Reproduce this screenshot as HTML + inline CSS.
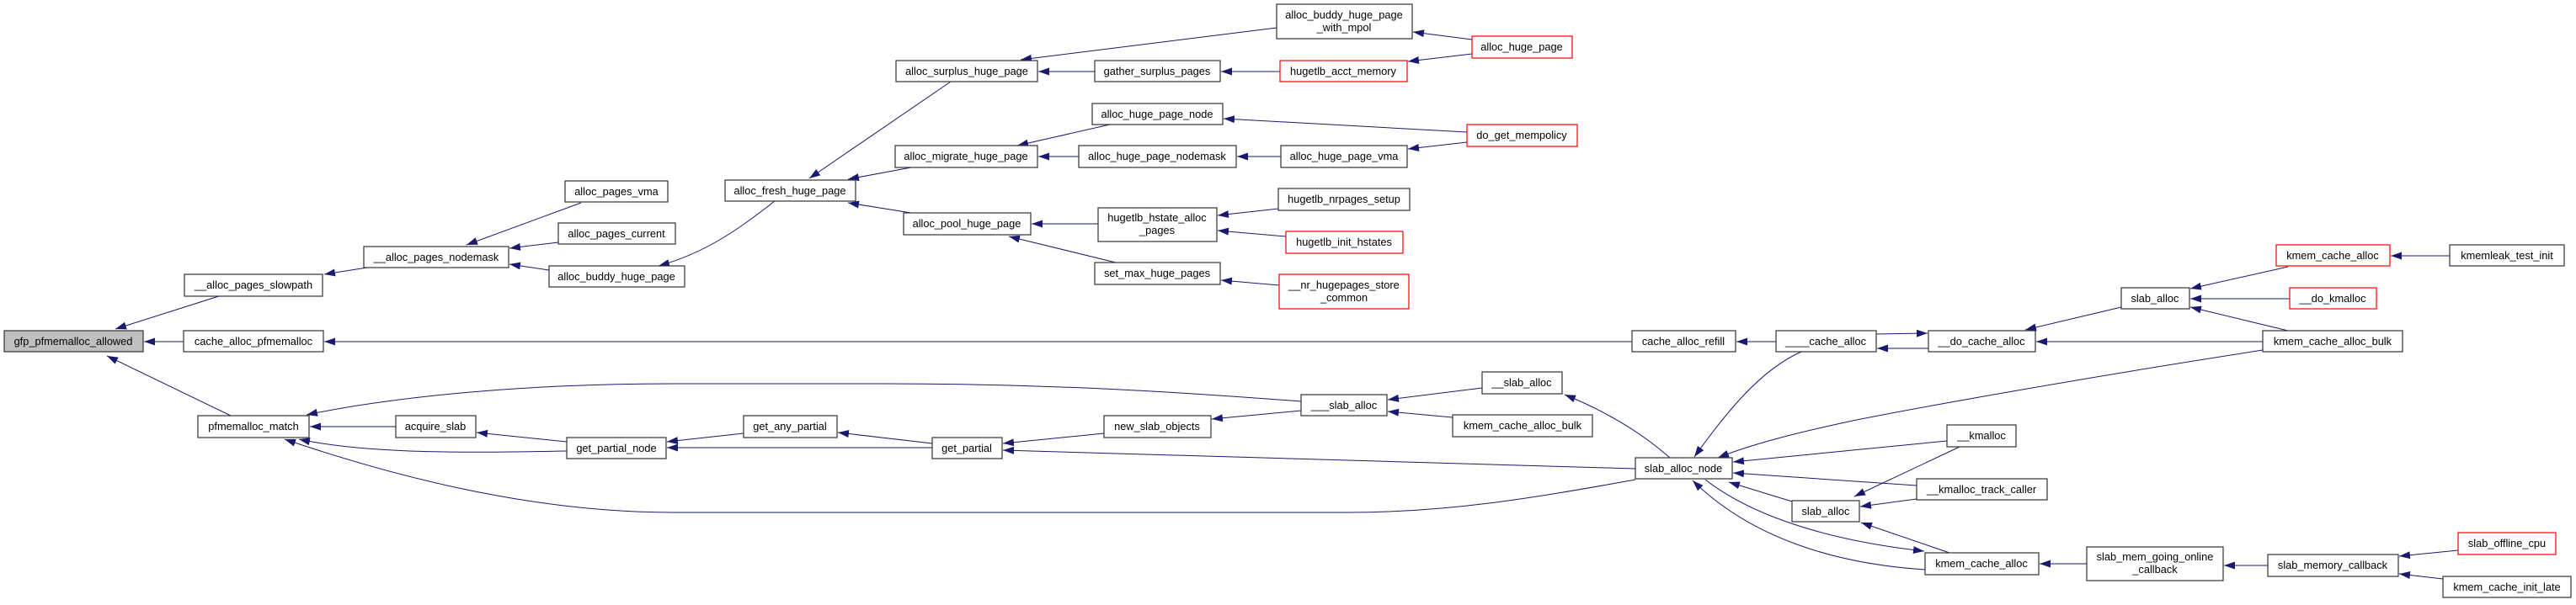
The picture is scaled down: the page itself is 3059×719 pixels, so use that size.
<!DOCTYPE html>
<html><head><meta charset="utf-8"><style>
html,body{margin:0;padding:0;background:#fff;}
svg text{font-family:"Liberation Sans",sans-serif;font-size:12.8px;fill:#000;text-anchor:middle;}
.n{fill:#fff;stroke:#333;stroke-width:1.2;}
.r{fill:#fff;stroke:#f00;stroke-width:1.2;}
.g{fill:#bfbfbf;stroke:#333;stroke-width:1.2;}
.e{fill:none;stroke:#191970;stroke-width:1;marker-end:url(#a);}
</style></head><body>
<svg width="3059" height="714" viewBox="0 0 3059 714" xmlns="http://www.w3.org/2000/svg">
<defs><marker id="a" markerUnits="userSpaceOnUse" markerWidth="14" markerHeight="11" refX="13" refY="4.5" orient="auto"><path d="M0,0 L13,4.5 L0,9 z" fill="#191970"/></marker></defs>
<g>
<path class="e" d="M260,352 L137,391"/>
<path class="e" d="M218,406 L171,406"/>
<path class="e" d="M274,494 L127,423"/>
<path class="e" d="M436,318 L385,326"/>
<path class="e" d="M690,241 L554,291"/>
<path class="e" d="M663,288 L605,295"/>
<path class="e" d="M652,321 L605,314"/>
<path class="e" d="M920,239 C880,270 840,300 782,316"/>
<path class="e" d="M1129,97 L961,212"/>
<path class="e" d="M1082,199 L1007,213"/>
<path class="e" d="M1082,253 L1007,241"/>
<path class="e" d="M1516,33 L1212,71"/>
<path class="e" d="M1300,85 L1233,85"/>
<path class="e" d="M1520,85 L1450,85"/>
<path class="e" d="M1748,47 L1678,38"/>
<path class="e" d="M1748,64 L1672,73"/>
<path class="e" d="M1318,148 L1208,173"/>
<path class="e" d="M1281,186 L1233,186"/>
<path class="e" d="M1521,186 L1469,186"/>
<path class="e" d="M1742,157 L1453,141"/>
<path class="e" d="M1742,169 L1672,177"/>
<path class="e" d="M1304,266 L1225,266"/>
<path class="e" d="M1325,312 L1198,281"/>
<path class="e" d="M1518,248 L1446,256"/>
<path class="e" d="M1527,281 L1446,274"/>
<path class="e" d="M1519,339 L1450,333"/>
<path class="e" d="M1938,406 L385,406"/>
<path class="e" d="M2109,406 L2062,406"/>
<path class="e" d="M2290,414 L2229,414"/>
<path class="e" d="M2228,397 L2289,396"/>
<path class="e" d="M2519,365 L2405,392"/>
<path class="e" d="M2687,406 L2418,406"/>
<path class="e" d="M2717,317 L2601,343"/>
<path class="e" d="M2719,355 L2601,355"/>
<path class="e" d="M2717,393 L2601,365"/>
<path class="e" d="M2909,304 L2839,304"/>
<path class="e" d="M2139,418 C2090,440 2050,490 2012,543"/>
<path class="e" d="M2687,416 C2500,445 2300,480 2200,500 C2130,515 2080,528 2040,544"/>
<path class="e" d="M2312,524 L2058,549"/>
<path class="e" d="M2276,577 L2058,562"/>
<path class="e" d="M2128,596 L2053,573"/>
<path class="e" d="M2327,531 L2202,590"/>
<path class="e" d="M2276,593 L2209,602"/>
<path class="e" d="M2315,657 L2210,621"/>
<path class="e" d="M2286,677 C2180,670 2080,640 2010,571"/>
<path class="e" d="M2025,570 C2070,605 2150,640 2285,655"/>
<path class="e" d="M2478,670 L2422,670"/>
<path class="e" d="M2693,672 L2641,672"/>
<path class="e" d="M2919,654 L2849,661"/>
<path class="e" d="M2901,688 L2849,682"/>
<path class="e" d="M1760,461 L1648,475"/>
<path class="e" d="M1725,496 L1648,489"/>
<path class="e" d="M1983,544 C1950,515 1910,490 1858,469"/>
<path class="e" d="M1545,477 C1400,466 1250,456 1050,456 L800,456 C600,456 450,475 364,493"/>
<path class="e" d="M1545,488 L1439,498"/>
<path class="e" d="M1311,515 L1191,527"/>
<path class="e" d="M1942,557 L1191,535"/>
<path class="e" d="M1107,527 L995,514"/>
<path class="e" d="M1107,532 L792,532"/>
<path class="e" d="M883,515 L792,525"/>
<path class="e" d="M673,525 L566,514"/>
<path class="e" d="M470,507 L368,507"/>
<path class="e" d="M673,536 C560,538 440,540 355,522"/>
<path class="e" d="M1942,570 C1820,592 1720,609 1600,609 L800,609 C620,609 450,560 338,522"/>
</g>
<g>
<rect class="g" x="5" y="393" width="165" height="25"/><text x="87" y="410">gfp_pfmemalloc_allowed</text>
<rect class="n" x="219" y="326" width="164" height="26"/><text x="301" y="343">__alloc_pages_slowpath</text>
<rect class="n" x="218" y="393" width="166" height="25"/><text x="301" y="410">cache_alloc_pfmemalloc</text>
<rect class="n" x="235" y="494" width="132" height="26"/><text x="301" y="511">pfmemalloc_match</text>
<rect class="n" x="432" y="293" width="172" height="25"/><text x="518" y="310">__alloc_pages_nodemask</text>
<rect class="n" x="671" y="215" width="122" height="25"/><text x="732" y="232">alloc_pages_vma</text>
<rect class="n" x="663" y="265" width="139" height="25"/><text x="732" y="282">alloc_pages_current</text>
<rect class="n" x="652" y="316" width="161" height="25"/><text x="732" y="333">alloc_buddy_huge_page</text>
<rect class="n" x="470" y="494" width="95" height="26"/><text x="517" y="511">acquire_slab</text>
<rect class="n" x="673" y="520" width="118" height="25"/><text x="732" y="537">get_partial_node</text>
<rect class="n" x="1516" y="5" width="161" height="41"/><text x="1596" y="22">alloc_buddy_huge_page</text><text x="1596" y="37">_with_mpol</text>
<rect class="n" x="1064" y="72" width="168" height="25"/><text x="1148" y="89">alloc_surplus_huge_page</text>
<rect class="n" x="1300" y="72" width="149" height="25"/><text x="1374" y="89">gather_surplus_pages</text>
<rect class="r" x="1520" y="72" width="151" height="25"/><text x="1595" y="89">hugetlb_acct_memory</text>
<rect class="n" x="1297" y="123" width="155" height="25"/><text x="1374" y="140">alloc_huge_page_node</text>
<rect class="n" x="1063" y="173" width="169" height="26"/><text x="1147" y="190">alloc_migrate_huge_page</text>
<rect class="n" x="1281" y="173" width="187" height="26"/><text x="1374" y="190">alloc_huge_page_nodemask</text>
<rect class="n" x="1521" y="173" width="150" height="26"/><text x="1596" y="190">alloc_huge_page_vma</text>
<rect class="n" x="861" y="214" width="155" height="25"/><text x="938" y="231">alloc_fresh_huge_page</text>
<rect class="n" x="1073" y="253" width="151" height="26"/><text x="1148" y="270">alloc_pool_huge_page</text>
<rect class="n" x="1304" y="247" width="141" height="40"/><text x="1374" y="263">hugetlb_hstate_alloc</text><text x="1374" y="278">_pages</text>
<rect class="n" x="1518" y="224" width="156" height="26"/><text x="1596" y="241">hugetlb_nrpages_setup</text>
<rect class="r" x="1527" y="275" width="139" height="26"/><text x="1596" y="292">hugetlb_init_hstates</text>
<rect class="n" x="1300" y="312" width="149" height="26"/><text x="1374" y="329">set_max_huge_pages</text>
<rect class="r" x="1519" y="326" width="154" height="41"/><text x="1596" y="343">__nr_hugepages_store</text><text x="1596" y="358">_common</text>
<rect class="n" x="1545" y="469" width="102" height="25"/><text x="1596" y="486">___slab_alloc</text>
<rect class="n" x="883" y="494" width="111" height="26"/><text x="938" y="511">get_any_partial</text>
<rect class="n" x="1107" y="520" width="83" height="25"/><text x="1148" y="537">get_partial</text>
<rect class="n" x="1311" y="494" width="127" height="26"/><text x="1374" y="511">new_slab_objects</text>
<rect class="r" x="1748" y="43" width="119" height="26"/><text x="1807" y="60">alloc_huge_page</text>
<rect class="r" x="1742" y="148" width="131" height="26"/><text x="1807" y="165">do_get_mempolicy</text>
<rect class="n" x="1938" y="393" width="123" height="25"/><text x="1999" y="410">cache_alloc_refill</text>
<rect class="n" x="2109" y="393" width="119" height="25"/><text x="2168" y="410">____cache_alloc</text>
<rect class="n" x="2290" y="393" width="127" height="25"/><text x="2353" y="410">__do_cache_alloc</text>
<rect class="n" x="1760" y="442" width="95" height="26"/><text x="1807" y="459">__slab_alloc</text>
<rect class="n" x="1725" y="493" width="166" height="26"/><text x="1808" y="510">kmem_cache_alloc_bulk</text>
<rect class="n" x="1942" y="544" width="115" height="25"/><text x="1999" y="561">slab_alloc_node</text>
<rect class="n" x="2312" y="505" width="82" height="26"/><text x="2353" y="522">__kmalloc</text>
<rect class="n" x="2276" y="569" width="155" height="25"/><text x="2353" y="586">__kmalloc_track_caller</text>
<rect class="n" x="2128" y="595" width="80" height="25"/><text x="2168" y="612">slab_alloc</text>
<rect class="n" x="2286" y="657" width="135" height="26"/><text x="2353" y="674">kmem_cache_alloc</text>
<rect class="r" x="2703" y="291" width="135" height="25"/><text x="2770" y="308">kmem_cache_alloc</text>
<rect class="n" x="2909" y="291" width="136" height="25"/><text x="2977" y="308">kmemleak_test_init</text>
<rect class="n" x="2519" y="342" width="81" height="25"/><text x="2559" y="359">slab_alloc</text>
<rect class="r" x="2719" y="342" width="103" height="25"/><text x="2770" y="359">__do_kmalloc</text>
<rect class="n" x="2687" y="393" width="166" height="25"/><text x="2770" y="410">kmem_cache_alloc_bulk</text>
<rect class="n" x="2478" y="650" width="162" height="40"/><text x="2559" y="666">slab_mem_going_online</text><text x="2559" y="681">_callback</text>
<rect class="n" x="2693" y="659" width="155" height="26"/><text x="2770" y="676">slab_memory_callback</text>
<rect class="r" x="2919" y="633" width="116" height="26"/><text x="2977" y="650">slab_offline_cpu</text>
<rect class="n" x="2901" y="685" width="152" height="25"/><text x="2977" y="702">kmem_cache_init_late</text>
</g>
</svg>
</body></html>
